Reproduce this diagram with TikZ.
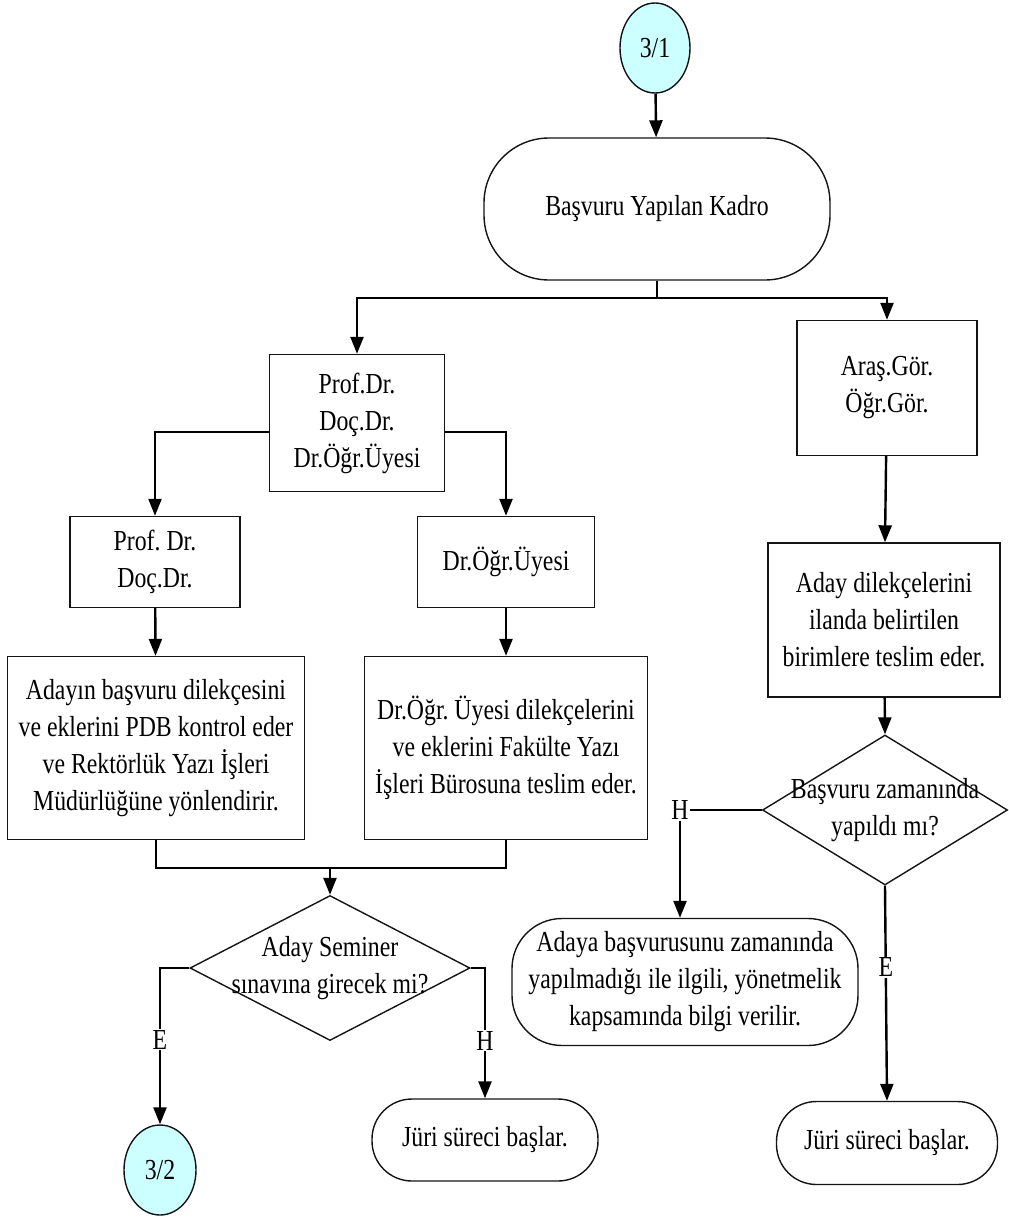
\documentclass[tikz,border=0pt]{standalone}
\usepackage{fontspec}
\setmainfont[FakeStretch=0.82]{Liberation Serif}
\usetikzlibrary{shapes.geometric,arrows.meta,positioning}
\definecolor{connfill}{RGB}{204, 255, 255}
\definecolor{linegray}{RGB}{20, 20, 20}

\tikzset{
    base/.style={draw=linegray, line width=1.4pt, align=center, inner sep=2pt,
        font=\fontsize{29}{37}\selectfont},
    procbox/.style={base, rectangle},
    termbox/.style={base, rectangle},
    decision/.style={base, diamond, inner sep=0pt},
    connector/.style={base, ellipse, fill=connfill, minimum width=70, minimum height=90},
    line/.style={draw=black, line width=2.4pt},
    arr/.style={line, -{Triangle[length=17pt, width=13pt]}},
    yesno/.style={fill=white, inner sep=1pt, font=\fontsize{29}{32}\selectfont}
}

\begin{document}
\frenchspacing
\begin{tikzpicture}[x=1pt, y=-1pt]
    \useasboundingbox (0,0) rectangle (1009,1218);

    \node[connector] (c31) at (655,48) {3/1};
    \node[termbox, rounded corners=65, minimum width=346, minimum height=142] (kadro) at (657,209) {Başvuru Yapılan Kadro};

    \node[procbox, minimum width=175, minimum height=137] (prof) at (357,423) {Prof.Dr.\\Doç.Dr.\\Dr.Öğr.Üyesi};
    \node[procbox, minimum width=180, minimum height=135] (aras) at (887,388) {Araş.Gör.\\Öğr.Gör.};

    \node[procbox, minimum width=170, minimum height=91] (profdoc) at (155,562) {Prof. Dr.\\Doç.Dr.};
    \node[procbox, minimum width=177, minimum height=91] (drou) at (506,562) {Dr.Öğr.Üyesi};

    \node[procbox, minimum width=297, minimum height=183] (adayin) at (156,748) {Adayın başvuru dilekçesini\\ve eklerini PDB kontrol eder\\ve Rektörlük Yazı İşleri\\Müdürlüğüne yönlendirir.};
    \node[procbox, minimum width=283, minimum height=183] (drdil) at (506,748) {Dr.Öğr. Üyesi dilekçelerini\\ve eklerini Fakülte Yazı\\İşleri Bürosuna teslim eder.};

    \node[decision, minimum width=280, minimum height=145,
        label={[base, draw=none]center:Aday Seminer\\sınavına girecek mi?}] (dsem) at (330,968) {};
    \node[connector, minimum width=72] (c32) at (160,1170) {3/2};
    \node[termbox, rounded corners=40, minimum width=226, minimum height=82] (juri1) at (485,1140) {Jüri süreci başlar.};

    \node[procbox, minimum width=232, minimum height=154] (adaydil) at (884,620) {Aday dilekçelerini\\ilanda belirtilen\\birimlere teslim eder.};
    \node[decision, minimum width=245, minimum height=150,
        label={[base, draw=none]center:Başvuru zamanında\\yapıldı mı?}] (dzam) at (885,810) {};
    \node[yesno] (hzam) at (680,810) {H};
    \node[termbox, rounded corners=50, minimum width=346, minimum height=127] (bilgi) at (685,982) {Adaya başvurusunu zamanında\\yapılmadığı ile ilgili, yönetmelik\\kapsamında bilgi verilir.};
    \node[termbox, rounded corners=40, minimum width=221, minimum height=83] (juri2) at (887,1143) {Jüri süreci başlar.};

    \coordinate (ksplit) at (657,298);
    \coordinate (jmerge) at (330,868);

    \draw[arr] (c31) -- (kadro);
    \draw[line] (kadro.south) -- (ksplit);
    \draw[arr] (ksplit) -| (prof.north);
    \draw[arr] (ksplit) -| (aras.north);

    \draw[arr] ([yshift=-9pt]prof.west) -| (profdoc.north);
    \draw[arr] ([yshift=-9pt]prof.east) -| (drou.north);
    \draw[arr] (profdoc) -- (adayin);
    \draw[arr] (drou) -- (drdil);

    \draw[line] (adayin.south) |- (jmerge) -| (drdil.south);
    \draw[arr] (jmerge) -- (dsem.north);
    \draw[arr] (dsem.west) -| node[yesno, pos=0.73] (esem) {E} (c32.north);
    \draw[arr] (dsem.east) -| node[yesno, pos=0.78] (hsem) {H} (juri1.north);

    \draw[arr] (aras) -- (adaydil);
    \draw[arr] (adaydil) -- (dzam.north);
    \draw[line] (dzam.west) -- (hzam);
    \draw[arr] (hzam) -- (bilgi.north -| hzam);
    \draw[arr] (dzam.south) -- node[yesno, pos=0.38] (ezam) {E} (juri2.north);
\end{tikzpicture}
\end{document}
